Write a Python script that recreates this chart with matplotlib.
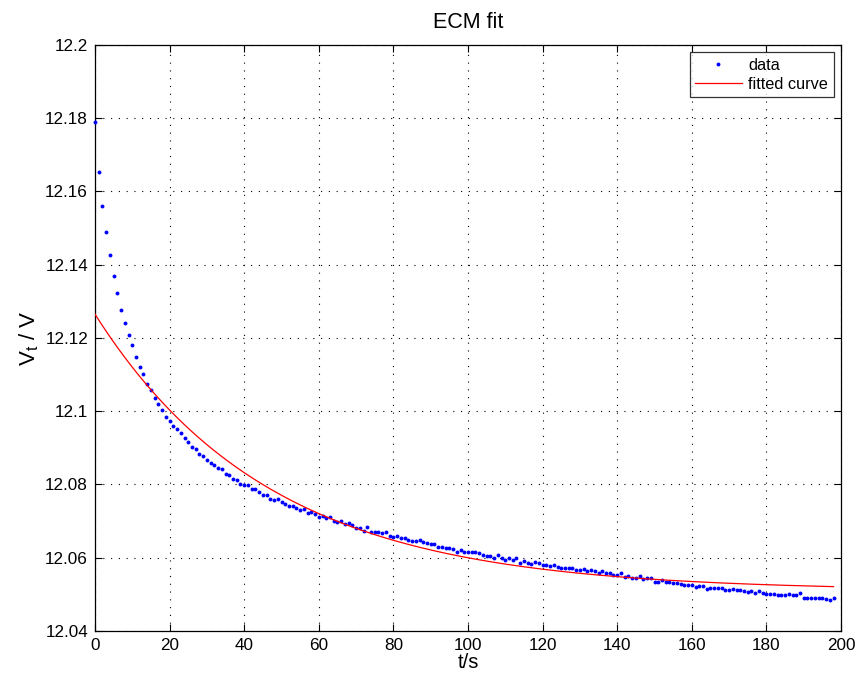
import numpy as np
import matplotlib
matplotlib.use("Agg")
import matplotlib.pyplot as plt
from matplotlib.ticker import FuncFormatter

plt.rcParams['font.family'] = ['Liberation Sans', 'DejaVu Sans']
plt.rcParams['mathtext.default'] = 'regular'

# Measured terminal voltage (one sample per second, t = 0 .. 198 s)
v_data = [
    12.1790, 12.1654, 12.1560, 12.1490, 12.1427, 12.1369, 12.1324, 12.1276, 12.1240, 12.1209,
    12.1181, 12.1148, 12.1122, 12.1101, 12.1074, 12.1059, 12.1035, 12.1021, 12.1003, 12.0985,
    12.0973, 12.0961, 12.0952, 12.0940, 12.0926, 12.0916, 12.0903, 12.0896, 12.0883, 12.0879,
    12.0867, 12.0858, 12.0853, 12.0844, 12.0842, 12.0829, 12.0826, 12.0815, 12.0813, 12.0801,
    12.0798, 12.0798, 12.0787, 12.0787, 12.0779, 12.0770, 12.0770, 12.0761, 12.0757, 12.0760,
    12.0751, 12.0746, 12.0741, 12.0741, 12.0736, 12.0730, 12.0733, 12.0721, 12.0726, 12.0720,
    12.0710, 12.0715, 12.0709, 12.0710, 12.0700, 12.0698, 12.0700, 12.0692, 12.0694, 12.0690,
    12.0680, 12.0682, 12.0672, 12.0685, 12.0671, 12.0670, 12.0671, 12.0667, 12.0671, 12.0660,
    12.0658, 12.0659, 12.0654, 12.0654, 12.0648, 12.0646, 12.0646, 12.0648, 12.0643, 12.0640,
    12.0637, 12.0638, 12.0630, 12.0630, 12.0627, 12.0626, 12.0625, 12.0617, 12.0622, 12.0615,
    12.0616, 12.0616, 12.0615, 12.0612, 12.0608, 12.0606, 12.0606, 12.0599, 12.0607, 12.0598,
    12.0594, 12.0598, 12.0594, 12.0598, 12.0586, 12.0592, 12.0586, 12.0582, 12.0588, 12.0585,
    12.0580, 12.0581, 12.0577, 12.0581, 12.0576, 12.0571, 12.0572, 12.0571, 12.0571, 12.0567,
    12.0566, 12.0570, 12.0563, 12.0567, 12.0563, 12.0558, 12.0563, 12.0557, 12.0557, 12.0553,
    12.0553, 12.0557, 12.0548, 12.0550, 12.0546, 12.0546, 12.0549, 12.0542, 12.0544, 12.0546,
    12.0535, 12.0533, 12.0538, 12.0535, 12.0535, 12.0530, 12.0530, 12.0529, 12.0526, 12.0525,
    12.0525, 12.0521, 12.0523, 12.0522, 12.0516, 12.0518, 12.0517, 12.0517, 12.0517, 12.0512,
    12.0512, 12.0516, 12.0512, 12.0511, 12.0509, 12.0507, 12.0508, 12.0504, 12.0509, 12.0503,
    12.0501, 12.0500, 12.0502, 12.0498, 12.0498, 12.0498, 12.0501, 12.0498, 12.0497, 12.0503,
    12.0491, 12.0491, 12.0491, 12.0491, 12.0491, 12.0490, 12.0487, 12.0486, 12.0489,
]
t_data = np.arange(len(v_data))

# Fitted ECM (first-order RC) parameters: V = v_inf + dv * exp(-t / tau)
v_inf = 12.051
dv = 0.0755
tau = 47.0
t_fit = np.linspace(0, 198, 400)
v_fit = v_inf + dv * np.exp(-t_fit / tau)

x_ticks = list(range(0, 201, 20))
y_ticks = [12.04, 12.06, 12.08, 12.10, 12.12, 12.14, 12.16, 12.18, 12.20]

fig = plt.figure(figsize=(8.57, 6.75), dpi=100)
ax = fig.add_axes([95 / 857, 1 - 631 / 675, (841 - 95) / 857, (631 - 45) / 675])

ax.plot(t_data, v_data, linestyle='none', marker='o', markersize=2.8,
        markerfacecolor='#0000ff', markeredgewidth=0, color='#0000ff', label='data',
        clip_on=False, zorder=3)
ax.plot(t_fit, v_fit, color='#ff0000', linewidth=0.9, label='fitted curve', zorder=3)

ax.set_xlim(0, 200)
ax.set_ylim(12.04, 12.2)
ax.set_xticks(x_ticks)
ax.set_yticks(y_ticks)
ax.yaxis.set_major_formatter(FuncFormatter(lambda v, p: '%g' % round(v, 4)))
ax.xaxis.set_major_formatter(FuncFormatter(lambda v, p: '%g' % v))

ax.grid(True, color='black', linestyle=(0, (1, 6)), linewidth=0.8)
ax.tick_params(direction='in', length=5, width=0.8, top=True, right=True,
               labelsize=12.3, pad=5, colors='black')
for s in ax.spines.values():
    s.set_linewidth(0.9)
    s.set_color('black')

ax.set_title('ECM fit', fontsize=15.5, pad=12)
ax.set_xlabel('t/s', fontsize=14.5, labelpad=0)
ax.set_ylabel('V$_t$ / V', fontsize=16, labelpad=3)

leg = ax.legend(loc='upper right', fontsize=11.7, frameon=True, fancybox=False,
                edgecolor='black', borderaxespad=0.45, handlelength=2.85,
                borderpad=0.35, labelspacing=0.22, handletextpad=0.4,
                markerscale=1.0, numpoints=1)
leg.get_frame().set_linewidth(0.9)

fig.savefig('out.png', dpi=100, facecolor='white')
